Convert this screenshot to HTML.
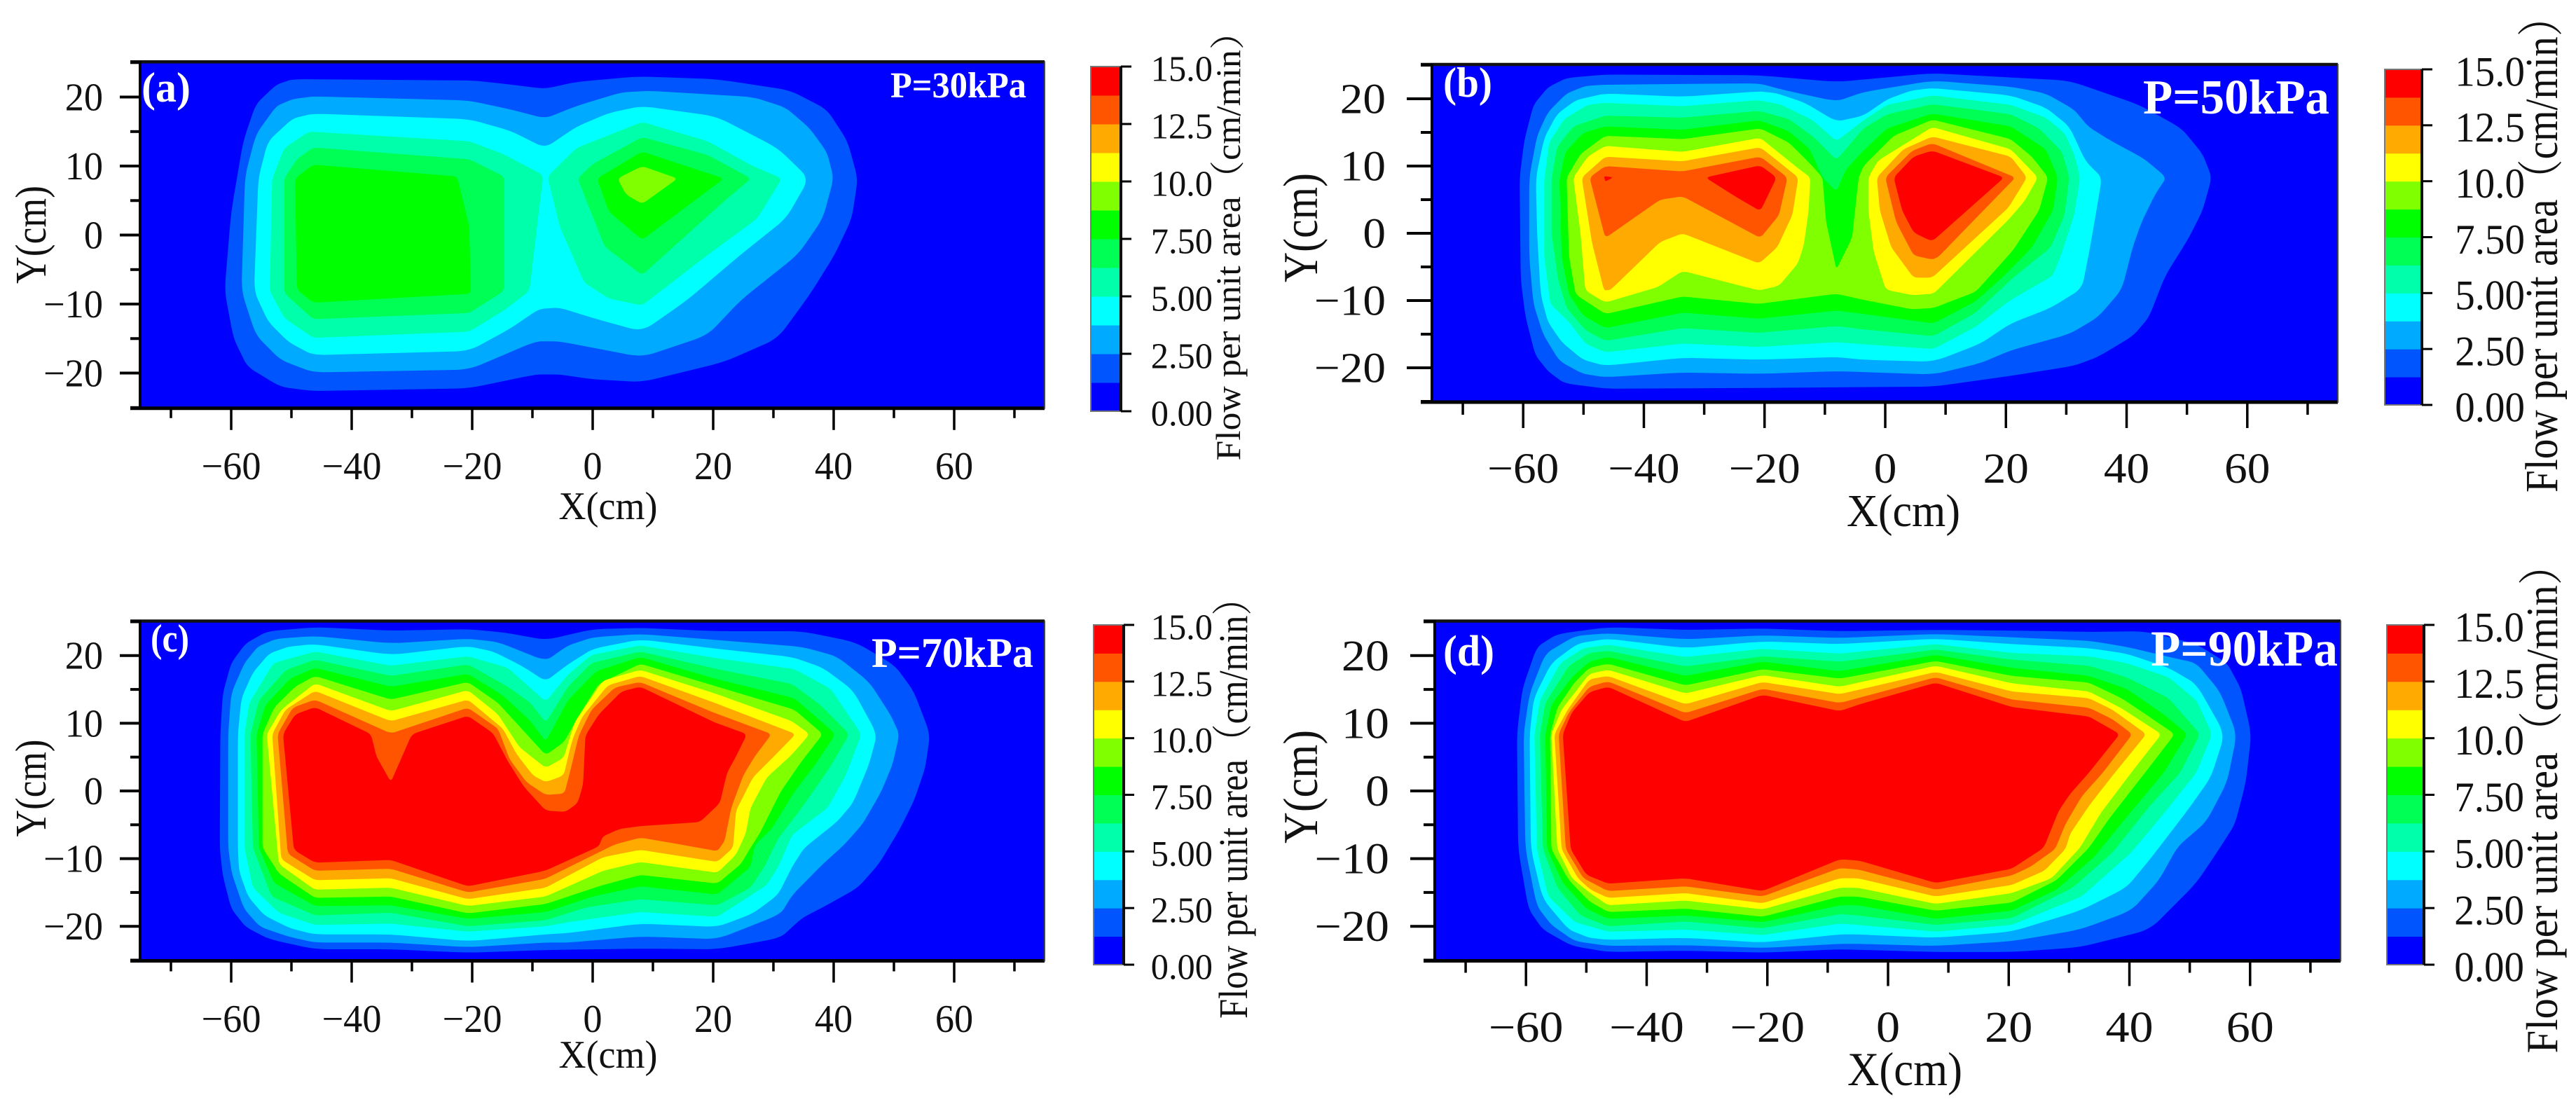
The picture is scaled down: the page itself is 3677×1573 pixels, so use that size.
<!DOCTYPE html>
<html lang="en">
<head>
<meta charset="utf-8">
<title>Flow per unit area contour maps</title>
<style>
html,body{margin:0;padding:0;background:#fff;width:3677px;height:1573px;overflow:hidden}
svg{display:block}
text{font-family:"Liberation Serif","Noto Serif CJK SC",serif;fill:#111}
.wt{fill:#fff;font-weight:bold}
</style>
</head>
<body>
<svg id="chart" xmlns="http://www.w3.org/2000/svg" width="3677" height="1573" viewBox="0 0 3677 1573">
<rect x="0" y="0" width="3677" height="1573" fill="#ffffff"/>
<g id="plots"></g>

<text x="868" y="741" font-size="56" text-anchor="middle" textLength="141" lengthAdjust="spacingAndGlyphs">X(cm)</text>
<text x="2717" y="751" font-size="66" text-anchor="middle" textLength="162" lengthAdjust="spacingAndGlyphs">X(cm)</text>
<text x="868" y="1524" font-size="56" text-anchor="middle" textLength="141" lengthAdjust="spacingAndGlyphs">X(cm)</text>
<text x="2719" y="1549" font-size="68" text-anchor="middle" textLength="164" lengthAdjust="spacingAndGlyphs">X(cm)</text>

<text transform="translate(65,335) rotate(-90)" font-size="62" text-anchor="middle" textLength="140" lengthAdjust="spacingAndGlyphs">Y(cm)</text>
<text transform="translate(1880,325) rotate(-90)" font-size="70" text-anchor="middle" textLength="156" lengthAdjust="spacingAndGlyphs">Y(cm)</text>
<text transform="translate(65,1125) rotate(-90)" font-size="62" text-anchor="middle" textLength="139" lengthAdjust="spacingAndGlyphs">Y(cm)</text>
<text transform="translate(1880,1123) rotate(-90)" font-size="70" text-anchor="middle" textLength="162" lengthAdjust="spacingAndGlyphs">Y(cm)</text>

<text transform="translate(1770,338.5) rotate(-90)" font-size="50" text-anchor="middle" textLength="638" lengthAdjust="spacingAndGlyphs">Flow per unit area（cm/min）</text>
<text transform="translate(3650,349) rotate(-90)" font-size="66" text-anchor="middle" textLength="708" lengthAdjust="spacingAndGlyphs">Flow per unit area（cm/min）</text>
<text transform="translate(1780,1141) rotate(-90)" font-size="58" text-anchor="middle" textLength="626" lengthAdjust="spacingAndGlyphs">Flow per unit area（cm/min）</text>
<text transform="translate(3650,1140) rotate(-90)" font-size="64" text-anchor="middle" textLength="727" lengthAdjust="spacingAndGlyphs">Flow per unit area（cm/min）</text>

<g id="annotations">
<text class="wt" x="202" y="145" font-size="60" textLength="70" lengthAdjust="spacingAndGlyphs">(a)</text>
<text class="wt" x="1271" y="139" font-size="52" textLength="194" lengthAdjust="spacingAndGlyphs">P=30kPa</text>
<text class="wt" x="2060" y="138" font-size="60" textLength="70" lengthAdjust="spacingAndGlyphs">(b)</text>
<text class="wt" x="3059" y="162" font-size="70" textLength="266" lengthAdjust="spacingAndGlyphs">P=50kPa</text>
<text class="wt" x="215" y="930" font-size="56" textLength="55" lengthAdjust="spacingAndGlyphs">(c)</text>
<text class="wt" x="1244" y="952" font-size="60" textLength="231" lengthAdjust="spacingAndGlyphs">P=70kPa</text>
<text class="wt" x="2060" y="950" font-size="62" textLength="73" lengthAdjust="spacingAndGlyphs">(d)</text>
<text class="wt" x="3070" y="950" font-size="72" textLength="267" lengthAdjust="spacingAndGlyphs">P=90kPa</text>
</g>
</svg>

<script>
// ---- axis data ----
const xMajorTicks = [-60,-40,-20,0,20,40,60];
const xMinorTicks = [-70,-50,-30,-10,10,30,50,70];
const yMajorTicks = [-20,-10,0,10,20];
const yMinorTicks = [-25,-15,-5,5,15,25];
const colorbarTicks = [0,2.5,5,7.5,10,12.5,15];
const colorbarLabels = ["0.00","2.50","5.00","7.50","10.0","12.5","15.0"];
const bandEdges = [0,1.25,2.5,3.75,5,6.25,7.5,8.75,10,11.25,12.5,13.75,15];
const bandColors = ["#0000ff","#0055ff","#00aaff","#00ffff","#00ffaa","#00ff55","#00ff00","#80ff00","#ffff00","#ffaa00","#ff5500","#ff0000"];

// ---- contour outlines: flat [x(cm), y(cm), ...] lists ----
// Panel (a) P=30kPa
const a1 = [-49.8,22.6,-19.8,22.4,-13.6,21.8,-7.9,21.2,-2.7,22.2,7.5,23,20.5,22.6,32.7,21,38.9,18.2,42.3,13.6,44,8.2,43,2.4,40.2,-2.8,36.2,-8.4,30.7,-15,21.8,-18.4,8.2,-21.3,0,-20.9,-5.5,-20.2,-9.5,-20.2,-20.5,-22.2,-46.4,-22.6,-51.8,-22,-57.3,-19.1,-59.6,-15,-61.1,-8.1,-60,3.4,-58,13.6,-55.9,19,-52.5,21.8];
const a2 = [-46.4,20.1,-20.5,19.5,-13.6,18.2,-7.9,16.9,-2.7,18.7,4.8,20.7,9.5,20.9,26.6,20,32,18.5,36,15.5,38.9,12,40,8.2,38.2,2.4,34.1,-2.8,24.6,-9.4,19.1,-14.5,8.2,-17.7,-5.5,-15.4,-9.5,-15.4,-20.5,-19.5,-46.4,-19.9,-51.8,-18.1,-55.9,-14.5,-58.3,-8.1,-57.7,8.5,-55.9,14.6,-52.5,18.7,-49.8,19.7];
const a3 = [-46.4,17.6,-20.5,16.8,-13.6,15.1,-7.9,12.6,-2.7,15.7,2.7,17.7,8.2,18.7,20.5,17.2,30.7,12.6,35.9,8.2,32.1,2.4,24.6,-2.8,15.7,-9.4,8.2,-14,0,-12,-5.5,-10.5,-8.9,-10.7,-13.6,-13.5,-20.5,-16.8,-46.4,-17.4,-50.5,-15.5,-53.9,-12.5,-56.2,-8.1,-55.5,8.2,-53.9,13.6,-49.8,16.9];
const a4L = [-47.1,15,-20.5,13.6,-15,11.8,-8.2,8.7,-9.5,-0.7,-10.5,-8.1,-14.7,-10.9,-20.5,-14,-46.4,-14.9,-51.2,-12,-53.6,-8.1,-53.2,8.2,-51.2,12.6];
const a4R = [-7.5,8.5,-2.7,12.6,8.2,16.4,19.1,13.6,26.6,10,31.4,8.2,27.3,2.4,17.7,-3.8,8.2,-10.2,2.7,-9.2,-1.4,-6.9,-5.5,1.3];
const a5L = [-46.4,12.7,-20.5,11,-14.7,8.5,-14.7,-8.1,-20.5,-11.3,-46.4,-12.2,-51.2,-8.4,-51.2,8.2,-49.1,11];
const a5R = [-2.5,8.2,0,10.3,8.2,14.2,19.1,11.6,26.3,8.2,21.8,4.9,8.2,-5.8,2,-1.7];
const a6L = [-46.4,10.2,-22.5,8.5,-20.5,1.3,-20.2,-8.5,-46.4,-9.8,-49.1,-7.9,-49.4,8.2];
const a6R = [0.7,8.2,8.2,12.1,21.8,8.2,8.2,-0.7,2.7,3.4];
const a7 = [4.1,8.2,8.2,10,14.1,8.2,8.2,4.5,5.5,5.9];

// Panel (b) P=50kPa
const b1 = [-60.6,8.3,-59.8,13.9,-58.3,19.1,-55.9,21.7,-52.8,23.1,-46.4,23.6,-21,23.5,-8.1,22.5,7.8,23.8,30.5,22.7,42.1,19.1,49.1,15.6,52.6,11.8,54.1,8.3,52.6,3.4,50.3,-0.7,46.4,-6.3,43.7,-12.5,41,-15.3,35.2,-18.4,31.3,-19.7,20.8,-21.2,8,-22.8,-21,-23,-46.4,-23.1,-53.2,-22.3,-55.9,-20.5,-58,-18.1,-59.6,-12.5,-60.4,-7];
const b2 = [-59,8.3,-57.7,14.5,-55.9,18,-52.8,20.8,-49.7,21.9,-46.4,22.1,-21,22.3,-16.8,21.3,-8.1,19.6,-3.6,21,7.8,22.7,20.8,21.8,26.6,20.8,31.3,18.4,33.6,15.9,37.1,13.9,42.9,11.1,46.6,8.3,44.8,5.9,42.5,1.7,41,-2.1,39.2,-8.4,35.2,-12.5,30.5,-15,20.8,-17.4,15.8,-19.3,8,-21,-8,-20.5,-21,-20.9,-33.8,-20.7,-46.4,-21.4,-50.1,-20.9,-54,-19,-56.7,-15,-58.3,-10.5,-59,-3.5];
const b3 = [-57.9,8.3,-56.5,14.2,-54.4,17.7,-51.3,19.8,-46.4,20.8,-33.6,20.3,-20.7,21.1,-17.9,20.8,-13.3,19.4,-8.1,16.6,-3.6,17.5,0.3,19.9,4.2,21.2,7.8,21.6,20.8,20.5,26.6,18.7,30.5,15.9,33.2,10.7,35.9,8.3,35,3.4,33.8,-2.8,32.6,-8.2,27.4,-11.1,20.8,-13.4,15.8,-16.4,8,-19.1,-3.6,-18.8,-8.1,-18.4,-21,-18.8,-33.6,-18.5,-46.4,-19.7,-50.1,-18.8,-53.6,-16.2,-55.9,-13.2,-57.1,-9.1,-57.7,0];
const b4 = [-56.5,8,-55.7,13.5,-53.2,17,-49.3,19.1,-46.4,19.4,-33.6,18.9,-21,19.8,-17.2,19.1,-12,16.8,-8.1,13.7,-3.6,16.8,0.3,19.1,7.8,20.5,20.8,19.1,26.6,17.2,29.7,14.9,31.3,11.8,32.3,8.3,31.3,2.7,29.3,-2.8,27.8,-6.3,20.8,-9.9,15,-13.9,8,-17.2,-3.6,-16.5,-8.1,-16.2,-21,-16.9,-33.6,-16.4,-46.4,-17.7,-49.7,-16.4,-52.4,-13.2,-55.5,-10.5,-56.5,-3.5];
const b5 = [-55.3,8,-54.4,12.8,-51.7,15.9,-46.4,17.5,-33.6,17.2,-20.9,18.2,-16,17,-11.7,14.2,-8.1,10.9,-3.6,15.6,0.3,17.7,7.8,19.2,20.8,17.7,25.5,15.6,29.3,12.1,30.5,8.3,29.7,2.7,27.4,-2.1,21.2,-6.6,15,-11.8,8,-15.3,-3.6,-14.3,-8.1,-13.8,-21,-14.8,-33.6,-14.1,-46.4,-16,-49.7,-14.4,-52.8,-11.1,-54.2,-7,-55.3,0];
const b6 = [-54,8,-53,12.1,-50.1,14.9,-46.4,15.9,-33.6,15.4,-20.9,16.8,-16,15.2,-12.5,12.5,-10.4,8.3,-8.1,6.2,-6.5,9.5,-3.6,12.3,0.3,15.6,7.8,17.8,20.8,15.9,26.6,12.5,28.6,8.3,27.8,3.4,24.3,-2.1,19.7,-6.3,15,-10.1,8,-13.4,-3.6,-12,-8.1,-11.5,-21,-12.7,-33.6,-11.8,-46.4,-14.1,-50.1,-12.2,-52.4,-9.1,-53.6,-3.5];
const b7 = [-52.8,8.3,-50.5,11.8,-46.4,14.5,-33.6,14,-20.7,15.6,-16,13.5,-12.5,10.4,-10.4,8.3,-9.8,1.7,-8.1,-5.4,-5.5,-0.7,-4.4,8.3,-3.6,10,1.4,14.5,7.8,16.9,20.8,14,24.3,11.4,27,8.3,25.5,3.4,21.2,-2.5,15,-8.7,8,-11.1,4.5,-11.3,-3.6,-9.9,-8.1,-9,-21,-10.5,-33.6,-9.4,-46.4,-12,-51.3,-9.1,-52.4,-3.5];
const b8L = [-51.7,8.3,-49.3,11.4,-46.4,13,-33.6,12.1,-20.7,14.2,-14.5,9.7,-12.4,8.3,-12.7,3.4,-13.5,-1.8,-14.5,-4.5,-17.6,-7.8,-20.9,-8.5,-33.6,-5.6,-37.7,-8,-46.4,-10.3,-49.7,-8.5,-50.5,0];
const b8R = [-2.8,8.3,-1.2,10.8,7.8,15.8,20.8,12.5,25.3,8.3,23.1,4.8,20.4,2,8,-9,4.5,-9.2,0.1,-8.4,-1.9,-2.8,-2.8,3.4];
const b9L = [-50.3,8.3,-46.4,11.4,-33.6,10.7,-20.7,12.8,-14.4,8.3,-15.4,2.7,-17.9,-2.1,-20.9,-4.5,-33.6,0,-37.3,-1.3,-45.5,-8.4,-46.6,-8.5,-48.6,-1.4];
const b9R = [-1.4,8.3,3,12.5,7.8,14.4,20.8,11.4,23.5,8.3,20.4,3.8,7.8,-6.6,4.7,-6.6,1,-2.1,-0.9,3.4];
const b10L = [-49,8.3,-46.4,10,-33.6,9.2,-20.7,11.4,-16.2,8.3,-17.6,2.7,-20.7,-0.7,-33.6,5.5,-37.3,5,-46.4,-0.7];
const b10R = [0,8.3,4.5,12.3,7.8,13.4,21.6,8.3,8.8,-3.5,7.8,-3.9,4.7,-3.3,1.8,1.7];
const b11L = [-29.8,8.3,-20.7,10.1,-18,8.3,-20.7,3.3,-24.9,5.5];
const b11S = [-46.6,8.5,-45.1,8.3,-46.4,7.7];
const b11R = [1.4,8.3,4.7,11.4,7.8,12.3,19.7,8.3,7.8,-1.2,4.7,0.1,2.8,3.4];

// Panel (c) P=70kPa
const c1 = [-61.8,8.4,-61.4,14.4,-60,18.9,-57.6,21.8,-54,23.6,-46.1,24.2,-33.5,23.7,-20.7,23.9,-14.5,23.4,-7.8,22.3,0,23.9,7.9,24.1,20.7,23.6,34.7,23.6,43.6,22,50.2,18.5,53.3,14.7,56,8.4,55.2,3.4,53.3,-1.5,51,-5.6,47.5,-10.8,44,-14.3,38.6,-17,34.7,-18.8,31.2,-21.7,20.7,-23.4,7.9,-23.3,-7.8,-23.5,-20.7,-23.9,-33.5,-23.4,-46.1,-23.4,-53.7,-21.9,-57.6,-20.1,-60,-17.4,-61.4,-12.5,-61.9,-8.4];
const c2 = [-60.5,8.4,-60,14.4,-57.8,18.9,-55.6,21.3,-52.5,22.5,-46.1,22.9,-33.5,21.8,-20.7,22.5,-15.7,22,-7.8,19.2,-4.1,21.5,0,22.7,7.9,23.2,20.7,22.3,34.7,21.3,40.5,19.9,45.9,16.1,49.4,11.3,50.9,8.4,49.8,4,47.9,-0.1,44.8,-4.9,41.7,-8,38.2,-10.8,33.2,-15.3,31.2,-18.2,20.7,-21.9,7.9,-21.5,-4.1,-22.4,-7.8,-22.4,-20.7,-23.1,-33.5,-22.4,-46.1,-22.4,-50.6,-21.5,-55.2,-20.1,-57.9,-17.4,-59.9,-12.2,-60.5,-8.4];
const c3 = [-58.9,8.4,-58.3,13.7,-56.4,17.5,-53.7,20.3,-50.6,21.3,-46.1,21.7,-33.5,20.1,-20.7,21.4,-16.5,20.6,-11.8,18.5,-7.8,16.2,-4.1,18.7,0,21,7.9,22.4,20.7,21,33.1,19.8,38.2,18.2,43.2,14.9,47.2,8.4,45.9,4,43.2,-1.8,40.5,-4.6,35.1,-8.4,33.1,-11.2,30.8,-15.3,26.6,-18.1,20.7,-20.1,7.9,-19.6,-4.1,-21,-7.8,-21.2,-20.7,-22.2,-33.5,-21.2,-46.1,-21.2,-50.2,-20.3,-54.5,-18.4,-57.2,-15.6,-58.7,-11.8,-58.9,-8.4];
const c4 = [-57.8,8.4,-57,13,-53,18.9,-46.1,20.6,-33.5,18.5,-20.7,19.9,-14.1,18.2,-7.8,13.2,-4.1,17.2,-0.2,20.1,7.9,21.5,20.7,19.6,33.5,18,39.5,15.1,44.6,8.4,42,2.3,39,-2.5,33.1,-6.5,30.8,-11.2,28.9,-13.9,20.7,-18.6,7.9,-17.9,-4.1,-19.4,-7.8,-20,-20.7,-20.8,-33.5,-19.6,-46.1,-19.8,-52.1,-18,-56.4,-14.3,-57.8,-8.4];
const c5 = [-56.8,8.4,-55.4,13.4,-50.9,17.9,-46.1,19.4,-33.5,17,-20.7,18.7,-14.1,15.4,-10.3,13,-7.8,10.1,-4.1,15.4,-0.2,18.9,7.9,20.6,20.7,18,33.1,15.8,37.8,12.7,42.6,8.4,39.3,3.4,34.7,-2.5,30.8,-7,28.5,-11.2,26.2,-14.3,20.7,-16.9,7.9,-16,-1,-17.2,-7.8,-19.1,-20.7,-20,-33.5,-18,-46.1,-18.4,-53.3,-15.6,-56.4,-8.4];
const c6 = [-55.8,8.4,-54.3,12.7,-50.2,16.6,-46.1,18.2,-33.5,15.4,-20.7,17.3,-14.9,14.1,-10.3,10.3,-7.8,7.3,-4.1,13.4,0.6,17.7,7.9,19.8,20.7,16.5,33.5,13.7,40.3,8.4,37,4,33.5,-0.1,29.7,-5.6,26.9,-8,26.2,-11.2,20.7,-15.3,7.9,-14.1,0,-15.6,-7.8,-17.9,-20.7,-18.9,-33.5,-16.9,-46.1,-17,-52.9,-13.6,-55.4,-8.4];
const c7 = [-54.8,8.4,-52.9,12.3,-49.4,15.4,-46.1,17,-33.5,13.5,-20.7,16.1,-15.7,13,-11.8,9.2,-7.8,5.3,-4.8,7.2,-1.7,12,1,15.8,7.9,18.8,20.7,15.4,33.5,12,38.2,8.4,34.7,4.4,31.2,-0.1,27.7,-6.3,26.2,-8.4,24.6,-10.8,20.7,-13.7,7.9,-12.4,1,-14.1,-7.8,-16.7,-20.7,-18.1,-33.5,-15.6,-46.1,-15.8,-52.1,-12.2,-54.8,-8.4];
const c8 = [-54.1,8.4,-51.7,12,-46.1,15.9,-33.5,11.8,-20.7,14.9,-15.7,11.3,-12.2,6.5,-7.8,3.4,-4.8,4.9,-3.7,8.2,-2.9,10.3,1.7,16.3,7.9,17.9,20.3,14.4,33.1,10.3,36,8.4,33.1,5.4,28.9,2,26.2,-2.5,25.4,-6.3,23.8,-9.4,20.7,-12.1,7.9,-10.5,1.7,-11.8,-7.8,-15.6,-20.7,-17,-33.5,-14.3,-46.1,-14.6,-52.1,-10.8];
const c9 = [-53.2,8.4,-51,12,-46.1,14.8,-33.5,10.3,-20.7,13.5,-14.9,9.2,-12.6,5.4,-9.9,2.3,-7.8,1.3,-4.8,2.3,-3.7,6.5,-3.1,8.2,-1.7,11,2.5,15.6,7.9,17,20.3,13,33.7,8.4,29.3,4.4,26.6,2,23.8,-2.9,23.3,-8.4,20.7,-10.5,7.9,-8.7,1.7,-9.8,-7.8,-14.3,-20.7,-16,-33.5,-12.9,-46.1,-13.2,-51.7,-10.1];
const c10 = [-52.3,8.4,-49.8,12.3,-46.1,13.5,-33.5,8.5,-20.7,12.3,-15.7,9.2,-13.8,4.7,-11,1.3,-7.8,-0.6,-4.7,-0.4,-3.9,2.3,-2.3,8.2,-0.2,12,3.7,15.3,7.9,16.1,20.3,11.5,29.7,8.4,26.9,5.1,25,2.3,23,-2.5,21.9,-7.4,20.7,-8.9,14.5,-7.9,7.9,-6.9,3.7,-7.9,-7.9,-13,-20.7,-15,-33.5,-11.5,-46.1,-11.8,-50.6,-9.3];
const c11 = [-51.4,8.4,-49.4,11.3,-46.1,12.4,-36.8,8.4,-35.9,5.1,-33.5,1.3,-30,8.4,-20.7,11.1,-16.5,8.5,-14.1,4.4,-11.4,0.6,-7.8,-2.9,-4.5,-3.1,-2.5,-1.8,-1.6,0.9,-1.2,8.2,1,11.3,4.8,14.7,7.9,15.4,20.3,10.1,25.6,8.4,23.8,5.1,22.3,2.7,21.1,-1.8,17.8,-4.6,7.9,-5.2,4.5,-5.6,1.7,-6.7,1,-8.2,-7.9,-11.8,-20.7,-14.1,-33.5,-10.2,-46.1,-10.6,-49.6,-8.7];

// Panel (d) P=90kPa
const d1 = [-61.5,8.4,-60.6,15.1,-58.2,21.3,-54.8,23.2,-46.4,24.2,-33.6,23.8,-20.8,24,-8,23.6,7.9,23.8,20.5,23.7,33.3,23.5,42.6,23.6,51.1,21.7,56.2,18.9,58.5,15.1,60.2,8.4,59.3,1.3,57.5,-4.9,55,-8.4,51.1,-13.6,43.4,-20.5,31.8,-23.1,20.5,-23.8,7.9,-23.8,-8,-23.4,-20.8,-23.9,-33.6,-23.6,-46.4,-23.8,-52.4,-22.9,-57.2,-20.5,-59.6,-17.4,-61.3,-8.6];
const d2 = [-60.4,8.4,-59.4,14.4,-56.8,20.3,-51.9,22.9,-46.4,23.3,-33.6,22.4,-20.8,23,-8,22.6,7.9,23.2,20.5,22.7,33.3,22.2,39.5,21.3,46.1,19.9,51.1,18.9,55,14.7,57.8,8.4,56.2,1.3,52.7,-4.6,48,-8.2,44.9,-13.2,40.3,-17.7,31.8,-20.5,20.5,-22.2,7.9,-22.9,-5,-22.6,-8,-22.6,-20.8,-23.2,-33.6,-22.8,-46.4,-22.9,-51.9,-22.2,-55.8,-19.8,-58.2,-17,-60.1,-8.6];
const d3 = [-59.4,8.4,-58.7,13.7,-55.8,18.9,-51.4,21.8,-46.4,22.5,-33.6,21.1,-20.8,22.1,-8,21.7,7.9,22.5,20.5,21.7,33.3,21.1,39.5,20.3,46.5,18.2,51.1,15.8,55.8,8.4,53.5,2,49.6,-2.9,43.4,-10.1,39.5,-14.3,31.8,-17.7,20.5,-20.8,7.9,-21.7,-5,-21.2,-8,-21.2,-20.8,-22.4,-33.6,-21.7,-46.4,-22,-49.5,-21.7,-52.9,-20.5,-57.2,-16,-59.2,-8.6];
const d4 = [-58.6,8.4,-57.7,13.4,-54.3,18.9,-50.5,21.1,-46.4,21.6,-33.6,19.8,-20.8,21,-8,20.3,7.9,21.7,20.5,20.4,33.3,19.9,39.5,18.9,46.5,16.8,51.1,13.4,53.7,8.4,51.1,2.7,46.1,-2.9,40.3,-9.1,32.1,-15.6,20.5,-19.8,7.9,-20.8,-5,-19.8,-8,-19.6,-20.8,-21.3,-33.6,-20.5,-46.4,-20.8,-51.9,-19.4,-56.3,-15.6,-58.2,-8.6];
const d5 = [-57.7,8.4,-56.8,13,-52.9,18.5,-49.5,20.4,-46.4,20.7,-33.6,18.4,-20.8,19.9,-8,19.1,7.9,20.9,20.5,19.4,33.3,18.5,39.5,16.8,46.5,13.7,51.7,8.4,48.4,2.7,43.4,-2.2,37.2,-9.1,30.6,-14.3,20.5,-18.8,7.9,-19.8,-5,-18.4,-8,-18.2,-20.8,-20.3,-33.6,-19.3,-46.4,-20,-51,-18.4,-54.8,-14.3,-57.2,-8.6];
const d6 = [-56.8,8.4,-55.8,12.7,-52.4,16.8,-49.5,19.1,-46.4,19.8,-33.6,17,-20.8,19.1,-8,17.7,7.9,20.1,20.5,18.2,33.3,17,39.5,15.1,45.7,11.3,49.6,8.4,45.7,2.7,39.5,-3.9,34.1,-9.8,27.9,-14.6,20.5,-17.7,7.9,-18.9,-5,-16.9,-8,-16.9,-20.8,-19.4,-33.6,-18.4,-46.4,-18.9,-50,-17.4,-53.9,-13.6,-56.5,-8.6];
const d7 = [-56,8.4,-54.8,12.3,-51.9,16.1,-49.5,18.2,-46.4,18.8,-33.6,15.6,-20.8,18,-8,16.6,7.9,19.2,20.5,17,33.3,16,38.7,13.7,43.4,10.9,47.5,8.4,42.6,2.7,36.8,-3.9,33.3,-8.4,27.9,-13.2,20.5,-16.5,7.9,-17.7,-5,-15.6,-8,-15.6,-20.8,-18.6,-33.6,-17.4,-46.4,-17.9,-49.5,-16.3,-52.9,-13.2,-55.8,-8.6];
const d8 = [-55.8,8.4,-54.1,12,-49.5,17.3,-46.4,17.9,-33.6,14.4,-20.8,17.1,-8,15.4,7.9,18.5,20.5,15.9,33.3,14.7,38.7,12.2,45.3,8.4,40.3,2.7,35.3,-3.2,31.8,-8.4,27.1,-12.9,20.5,-15.1,7.9,-16.7,-5,-14.3,-8,-14.3,-20.8,-17.5,-33.6,-16.2,-46.4,-16.9,-49.5,-15,-52.4,-12.9,-54.8,-8.6];
const d9 = [-55.3,8.4,-53.1,12,-49.5,16.5,-46.4,17,-33.6,12.8,-20.8,16.1,-8,14.3,7.9,17.6,20.5,14.7,33.3,13.7,37.2,12,42.8,8.4,37.6,2.7,33.3,-2.2,30.2,-6.3,29.4,-8.6,25.9,-11.8,20.5,-13.9,7.9,-15.6,-5,-12.9,-8,-12.9,-20.8,-16.6,-33.6,-15.1,-46.4,-15.8,-49.3,-14.6,-51.4,-12.9,-54.1,-8.6];
const d10 = [-54.6,8.4,-52.9,11.6,-49.5,15.4,-46.4,16.2,-33.6,11.5,-20.8,15.1,-8,13,7.9,16.8,20.5,13.5,33.3,12.3,37.2,10.6,40.5,8.4,35.6,2.7,32.1,-0.8,29.4,-4.9,27.7,-8.6,23.6,-11.2,20.5,-12.5,7.9,-14.6,-5,-11.6,-8,-11.4,-20.8,-15.6,-33.6,-14.1,-46.4,-14.8,-50.5,-12.9,-53.4,-8.6];
const d11 = [-53.9,8.4,-52.4,11.6,-49.5,14.6,-46.4,15.4,-33.6,10.2,-20.8,14.2,-8,11.8,-4.7,12.8,7.9,16,20.5,12.4,33.3,11,38.4,8.4,33.3,2.7,30.2,-0.4,28.3,-2.9,25.8,-8.4,20.5,-11.5,7.9,-13.6,-4.7,-10.3,-8,-10.1,-20.8,-14.8,-33.6,-12.9,-46.4,-13.7,-50,-12.4,-52.6,-8.6];

// Each entry: outlines filled with the band colour at that index + 1
const panelABands = [[a1],[a2],[a3],[a4L,a4R],[a5L,a5R],[a6L,a6R],[a7]];
const panelBBands = [[b1],[b2],[b3],[b4],[b5],[b6],[b7],[b8L,b8R],[b9L,b9R],[b10L,b10R],[b11L,b11S,b11R]];
const panelCBands = [[c1],[c2],[c3],[c4],[c5],[c6],[c7],[c8],[c9],[c10],[c11]];
const panelDBands = [[d1],[d2],[d3],[d4],[d5],[d6],[d7],[d8],[d9],[d10],[d11]];

const NS = "http://www.w3.org/2000/svg";
const root = document.getElementById("plots");

function mk(tag, attrs, parent){
  const el = document.createElementNS(NS, tag);
  for (const k in attrs) el.setAttribute(k, attrs[k]);
  parent.appendChild(el);
  return el;
}
function line(parent, x1, y1, x2, y2, sw, col){
  const el = mk("line", {x1:x1, y1:y1, x2:x2, y2:y2, stroke:col || "#000", "stroke-width":sw}, parent);
  
  
  return el;
}
function label(parent, x, y, str, size, sx, anchor){
  const el = mk("text", {transform:"translate("+x+","+y+") scale("+sx+",1)", "font-size":size, "text-anchor":anchor}, parent);
  el.textContent = str;
  
  
  return el;
}
function fmt(v){ return v < 0 ? "\u2212" + Math.abs(v) : String(v); }

// Outline through screen points; outer bands get softer corners than inner ones
function outlinePath(pts, cap){
  const n = pts.length;
  let d = "";
  for (let i = 0; i < n; i++){
    const p = pts[i], a = pts[(i+n-1)%n], b = pts[(i+1)%n];
    const la = Math.hypot(a[0]-p[0], a[1]-p[1]) || 1;
    const lb = Math.hypot(b[0]-p[0], b[1]-p[1]) || 1;
    const ca = Math.min(0.25*la, cap) / la;
    const cb = Math.min(0.25*lb, cap) / lb;
    const x1 = p[0] + (a[0]-p[0])*ca, y1 = p[1] + (a[1]-p[1])*ca;
    const x2 = p[0] + (b[0]-p[0])*cb, y2 = p[1] + (b[1]-p[1])*cb;
    d += (i === 0 ? "M" : "L") + x1.toFixed(1) + " " + y1.toFixed(1) + "Q" + p[0].toFixed(1) + " " + p[1].toFixed(1) + " " + x2.toFixed(1) + " " + y2.toFixed(1);
  }
  return d + "Z";
}

function drawPanel(p, bands){
  const g = mk("g", {}, root);
  
  
  const sx = v => p.L + (v + 75) / 150 * (p.R - p.L);
  const sy = v => p.B - (v + 25) / 50 * (p.B - p.T);

  const bg = mk("rect", {x:p.L, y:p.T, width:p.R-p.L, height:p.B-p.T, fill:bandColors[0]}, g);
  
  

  bands.forEach(function(outlines, i){
    outlines.forEach(function(flat){
      const pts = [];
      for (let k = 0; k < flat.length; k += 2) pts.push([sx(flat[k]), sy(flat[k+1])]);
      const shape = mk("path", {d:outlinePath(pts, i < 3 ? 20 : 7), fill:bandColors[i+1]}, g);
      
      
    });
  });

  // spines
  const top = line(g, p.L-p.yMinor, p.T-1, p.R, p.T-1, 4.5, "#111");
  
  const bottom = line(g, p.L-p.yMinor, p.B+1, p.R, p.B+1, 5, "#000");
  
  const left = line(g, p.L-1, p.T-2, p.L-1, p.B+3, 4, "#000");
  
  const right = line(g, p.R, p.T-2, p.R, p.B+2, 2, "#445");
  

  // x ticks
  xMajorTicks.forEach(function(v){
    line(g, sx(v), p.B+2, sx(v), p.B+p.xMajor, 3.5);
    label(g, sx(v), p.xLabelY, fmt(v), p.tickFont, p.tickSx, "middle");
  });
  xMinorTicks.forEach(function(v){ line(g, sx(v), p.B+2, sx(v), p.B+p.xMinor, 3.5); });
  // y ticks
  yMajorTicks.forEach(function(v){
    line(g, p.L-p.yMajor, sy(v), p.L, sy(v), 4);
    label(g, p.yLabelX, sy(v) + 0.338*p.tickFont, fmt(v), p.tickFont, p.tickSx, "end");
  });
  yMinorTicks.forEach(function(v){ line(g, p.L-p.yMinor, sy(v), p.L, sy(v), 4); });

  // colorbar
  const cb = mk("g", {}, g);
  
  
  const cy = v => p.cbB - v / 15 * (p.cbB - p.cbT);
  bandColors.forEach(function(col, i){
    const yTop = cy(bandEdges[i+1]), yBot = cy(bandEdges[i]);
    const r = mk("rect", {x:p.cbL, y:yTop, width:p.cbR-p.cbL, height:yBot-yTop+0.5, fill:col}, cb);
    
    
  });
  const frame = mk("rect", {x:p.cbL, y:p.cbT, width:p.cbR-p.cbL, height:p.cbB-p.cbT, fill:"none", stroke:"#777", "stroke-width":2}, cb);
  
  
  line(cb, p.cbR, p.cbT, p.cbR, p.cbB, 4, "#111");
  colorbarTicks.forEach(function(v, i){
    line(cb, p.cbR, cy(v), p.cbR+15, cy(v), 3);
    label(cb, p.cbLabelX, cy(v) + 0.338*p.cbFont + 3, colorbarLabels[i], p.cbFont, p.cbSx, "end");
  });
}

drawPanel({L:201,R:1491,T:89.3,B:581.8,xMajor:32,xMinor:15,yMajor:30,yMinor:15,tickFont:56,tickSx:0.97,xLabelY:684,yLabelX:147,
  cbL:1557,cbR:1600,cbT:95,cbB:587,cbFont:52,cbSx:0.97,cbLabelX:1731}, panelABands);
drawPanel({L:2045,R:3337,T:93,B:573,xMajor:38,xMinor:19,yMajor:37,yMinor:17,tickFont:61,tickSx:1.07,xLabelY:689,yLabelX:1978,
  cbL:3404,cbR:3457,cbT:99,cbB:578,cbFont:60,cbSx:0.95,cbLabelX:3604}, panelBBands);
drawPanel({L:201,R:1491,T:887.5,B:1370.5,xMajor:32,xMinor:16,yMajor:30,yMinor:15,tickFont:56,tickSx:0.97,xLabelY:1473,yLabelX:147,
  cbL:1561,cbR:1604,cbT:892,cbB:1377,cbFont:52,cbSx:0.97,cbLabelX:1731}, panelCBands);
drawPanel({L:2049,R:3341,T:887.5,B:1370.5,xMajor:37,xMinor:18,yMajor:36,yMinor:17,tickFont:62,tickSx:1.1,xLabelY:1487,yLabelX:1983,
  cbL:3407,cbR:3460,cbT:892,cbB:1377,cbFont:60,cbSx:0.95,cbLabelX:3603}, panelDBands);
</script>
</body>
</html>
